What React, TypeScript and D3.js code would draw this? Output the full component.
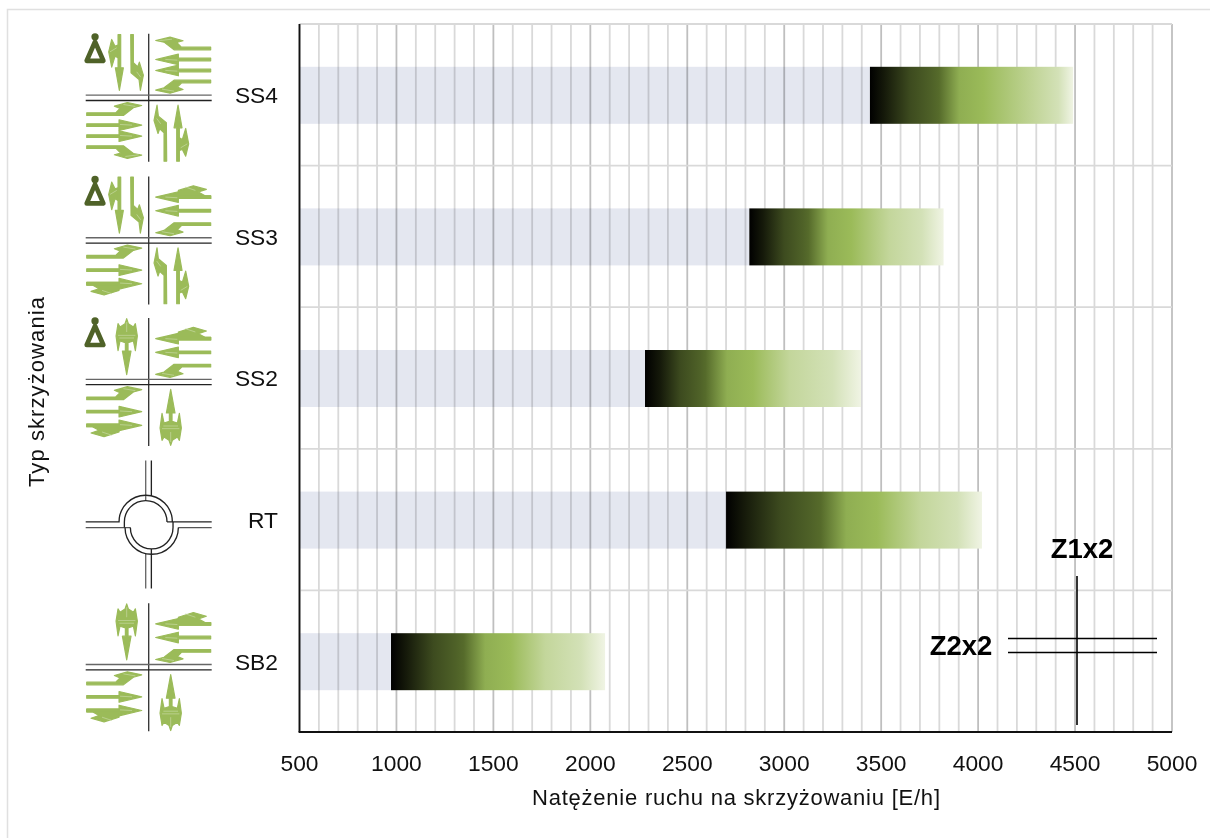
import React from "react";
import * as d3 from "d3";

// Intersection types, top to bottom, and the traffic-flow range of each one [E/h]
const categories = ["SS4", "SS3", "SS2", "RT", "SB2"];
const rangeStart = [3442, 2820, 2282, 2700, 972];
const rangeEnd = [4490, 3822, 3396, 4020, 2076];
// Share of each range where the dark shade gives way to green, and where green turns pale
const greenFrom = [0.36, 0.325, 0.3, 0.39, 0.36];
const paleFrom = [0.82, 0.72, 0.67, 0.76, 0.72];
const iconKinds = ["ss4", "ss3", "ss2", "rt", "sb2"];
const iconShift = [3, 4, 4, 5, 6];
const xTicks = [500, 1000, 1500, 2000, 2500, 3000, 3500, 4000, 4500, 5000];
const xMinorTicks = d3.range(500, 5001, 100);

const WIDTH = 1210;
const HEIGHT = 838;
const FONT = "'Liberation Sans', Arial, sans-serif";
const ARROW = "#9bbb59";
const DARK = "#4f6228";

const plot = { left: 299.5, right: 1172, top: 24, bottom: 732 };

const x = d3.scaleLinear().domain([500, 5000]).range([plot.left, plot.right]);
const y = d3.scaleBand<string>().domain(categories).range([plot.top, plot.bottom]).paddingInner(0).paddingOuter(0);

const gradientStops = (green: number, pale: number): [number, string][] => [
  [0, "#000000"],
  [0.07, "#15190a"],
  [green * 0.55, "#3d4b1f"],
  [green * 0.85, "#4f6228"],
  [green - 0.02, "#566b2b"],
  [green + 0.08, "#8fae52"],
  [green + 0.2, "#9bbb59"],
  [pale, "#c3d69b"],
  [pale + (1 - pale) * 0.6, "#d3e1b7"],
  [1, "#f0f4e4"],
];

// Lane glyphs in third-of-a-pixel units around the centre of the junction,
// drawn for the east arm (or the north arm) and turned 180° for the opposite one.
const straightEast = (cy: number) =>
  `M186 ${cy - 4}L89 ${cy - 4}L89 ${cy - 16}L21 ${cy}L89 ${cy + 16}L89 ${cy + 4}L186 ${cy + 4}Z`;
const turnUpperEast = "M186 -152L186 -144L76 -144L46 -167L21 -172L64 -182L103 -171L84 -166L98 -152Z";
const turnLowerEast = "M186 -53L186 -45L99 -45L86 -32L103 -25L64 -14L21 -23L46 -30L76 -53Z";
const sideTurnEast = "M89 -150L134 -164L173 -153L149 -145L169 -134L186 -134L186 -126L89 -126Z";
const ss4North = [
  "M-92 -190L-84 -190L-84 -90L-76 -90L-88 -22L-100 -90L-92 -90Z",
  "M-111 -175L-120 -138L-111 -92L-101 -125L-92 -120L-92 -158L-101 -155Z",
  "M-54 -190L-46 -190L-46 -105L-33 -93L-28 -107L-16 -68L-25 -22L-29 -55L-53 -75Z",
];
const mergedNorth = [
  "M-66 -190L-61 -175L-46 -165L-40 -175L-34 -138L-40 -94L-46 -123L-62 -118L-62 -93L-53 -93L-66 -22L-79 -93L-70 -93L-70 -118L-86 -123L-92 -94L-98 -138L-92 -175L-86 -165L-71 -175Z",
];
// Pale streaks across the wider arrow bodies
const streaksSs4 = ["M-116 -138L-96 -150", "M-36 -78L-24 -62", "M30 -171L70 -176", "M50 -115L86 -113", "M50 -82L86 -80", "M40 -26L76 -20"];
const streaksSs3 = ["M-116 -138L-96 -150", "M-36 -78L-24 -62", "M110 -160L140 -150", "M50 -130L86 -128", "M50 -89L86 -87", "M40 -26L76 -20"];
const streaksMerged = ["M-92 -140L-40 -140", "M-88 -132L-44 -132", "M-66 -180L-66 -150", "M110 -160L140 -150", "M50 -130L86 -128", "M50 -89L86 -87", "M40 -26L76 -20"];

function ArmGlyphs({ paths, streaks }: { paths: string[]; streaks: string[] }) {
  return (
    <>
      {paths.map((d, i) => (
        <path key={i} d={d} fill={ARROW} stroke={ARROW} strokeWidth={3.5} strokeLinejoin="round" />
      ))}
      {streaks.map((d, i) => (
        <path key={i} d={d} fill="none" stroke="#c9dba6" strokeWidth={2} />
      ))}
    </>
  );
}

function Crossing({
  lanes,
  streaks,
  pedestrian,
}: {
  lanes: string[];
  streaks: string[];
  pedestrian: boolean;
}) {
  return (
    <g transform="scale(0.3333)">
      <ArmGlyphs paths={lanes} streaks={streaks} />
      <g transform="rotate(180)">
        <ArmGlyphs paths={lanes} streaks={streaks} />
      </g>
      <path d="M0 -192V192" stroke="#333" strokeWidth={4} fill="none" />
      <path d="M-189 -8H189" stroke="#666" strokeWidth={4} fill="none" />
      <path d="M-189 8H189" stroke="#222" strokeWidth={4} fill="none" />
      {pedestrian && (
        <g>
          <circle cx={-161} cy={-183} r={11} fill={DARK} />
          <path d="M-161 -168L-136 -111L-186 -111Z" fill="none" stroke={DARK} strokeWidth={14} strokeLinejoin="round" />
        </g>
      )}
    </g>
  );
}

function Roundabout() {
  const line = { fill: "none", stroke: "#222", strokeWidth: 4 };
  return (
    <g transform="scale(0.3333)">
      <path {...line} stroke="#666" d="M-9 -192V-72M-9 192V87" />
      <path {...line} d="M8 -192V-86M8 192V73" />
      <path {...line} d="M-189 -8H-89A80 80 0 0 1 71 -8" />
      <path {...line} stroke="#555" d="M-189 9H-55" />
      <path {...line} d="M55 -8H189" />
      <path {...line} stroke="#555" d="M89 9H189" />
      <path {...line} d="M-73 9V-8A64 64 0 0 1 55 -8" />
      <path {...line} d="M-55 9A64 64 0 0 0 73 9V-8" />
      <path {...line} d="M-71 9A80 80 0 0 0 89 9" />
    </g>
  );
}

function Icon({ kind }: { kind: string }) {
  if (kind === "rt") return <Roundabout />;
  if (kind === "ss4") {
    return (
      <Crossing
        pedestrian
        lanes={[turnUpperEast, straightEast(-115), straightEast(-82), turnLowerEast, ...ss4North]}
        streaks={streaksSs4}
      />
    );
  }
  const east = [sideTurnEast, straightEast(-130), straightEast(-89), turnLowerEast];
  const north = kind === "ss3" ? ss4North : mergedNorth;
  return (
    <Crossing
      pedestrian={kind !== "sb2"}
      lanes={[...east, ...north]}
      streaks={kind === "ss3" ? streaksSs3 : streaksMerged}
    />
  );
}

export default function App() {
  const bandH = y.bandwidth();
  const barH = 57;
  return (
    <svg
      width={WIDTH}
      height={HEIGHT}
      viewBox={`0 0 ${WIDTH} ${HEIGHT}`}
      style={{ position: "absolute", left: 0, top: 0, display: "block", fontFamily: FONT }}
    >
      <defs>
        {categories.map((c, i) => (
          <linearGradient key={c} id={`flowGradient${c}`} x1="0" x2="1" y1="0" y2="0">
            {gradientStops(greenFrom[i], paleFrom[i]).map(([o, col]) => (
              <stop key={o} offset={o} stopColor={col} />
            ))}
          </linearGradient>
        ))}
      </defs>
      <rect x={0} y={0} width={WIDTH} height={HEIGHT} fill="#fff" />
      <path d="M7.5 838V9.5H1210" fill="none" stroke="#e0e0e0" strokeWidth={1.5} />

      {/* vertical grid */}
      {xMinorTicks.map((t) => (
        <line
          key={t}
          x1={x(t)}
          x2={x(t)}
          y1={plot.top}
          y2={plot.bottom}
          stroke={t % 500 === 0 ? "#bfbfbf" : "#d9d9d9"}
          strokeWidth={1.8}
        />
      ))}
      {/* row separators */}
      {[...categories, "end"].map((c, i) => (
        <line
          key={c}
          x1={plot.left}
          x2={plot.right}
          y1={plot.top + i * bandH}
          y2={plot.top + i * bandH}
          stroke="#d9d9d9"
          strokeWidth={1.8}
        />
      ))}

      {/* lead-in and gradient range of each intersection type */}
      {categories.map((c, i) => {
        const by = y(c)! + bandH / 2 - barH / 2 + 0.5;
        return (
          <g key={c}>
            <rect
              x={x(500)}
              y={by}
              width={x(rangeStart[i]) - x(500)}
              height={barH}
              fill="#e4e7f0"
              style={{ mixBlendMode: "multiply" }}
            />
            <rect
              x={x(rangeStart[i])}
              y={by}
              width={x(rangeEnd[i]) - x(rangeStart[i])}
              height={barH}
              fill={`url(#flowGradient${c})`}
            />
          </g>
        );
      })}

      {/* axes */}
      <line x1={plot.left} x2={plot.left} y1={plot.top} y2={plot.bottom} stroke="#111" strokeWidth={1.8} />
      <line x1={plot.left - 0.9} x2={plot.right} y1={plot.bottom} y2={plot.bottom} stroke="#111" strokeWidth={1.8} />
      {xTicks.map((t) => (
        <text key={t} x={x(t)} y={771} textAnchor="middle" fontSize={22.8} fill="#111">
          {t}
        </text>
      ))}
      <text x={736} y={805} textAnchor="middle" fontSize={22} fill="#111" textLength={408}>
        Natężenie ruchu na skrzyżowaniu [E/h]
      </text>
      <text transform="translate(44 392) rotate(-90)" textAnchor="middle" fontSize={22} fill="#111" textLength={190}>
        Typ skrzyżowania
      </text>

      {/* category labels and junction diagrams */}
      {categories.map((c, i) => (
        <g key={c}>
          <text x={278} y={y(c)! + bandH / 2 + 8.3} textAnchor="end" fontSize={22.8} fill="#111">
            {c}
          </text>
          <g transform={`translate(148.7 ${y(c)! + bandH / 2 + iconShift[i]})`}>
            <Icon kind={iconKinds[i]} />
          </g>
        </g>
      ))}

      {/* carriageway key */}
      <g stroke="#000" strokeWidth={1.6}>
        <line x1={1077} x2={1077} y1={576} y2={725} />
        <line x1={1008} x2={1157} y1={638.5} y2={638.5} />
        <line x1={1008} x2={1157} y1={652.5} y2={652.5} />
      </g>
      <text x={1082} y={558} textAnchor="middle" fontSize={27.5} fontWeight={700} fill="#000">
        Z1x2
      </text>
      <text x={961} y={655} textAnchor="middle" fontSize={27.5} fontWeight={700} fill="#000">
        Z2x2
      </text>
    </svg>
  );
}
